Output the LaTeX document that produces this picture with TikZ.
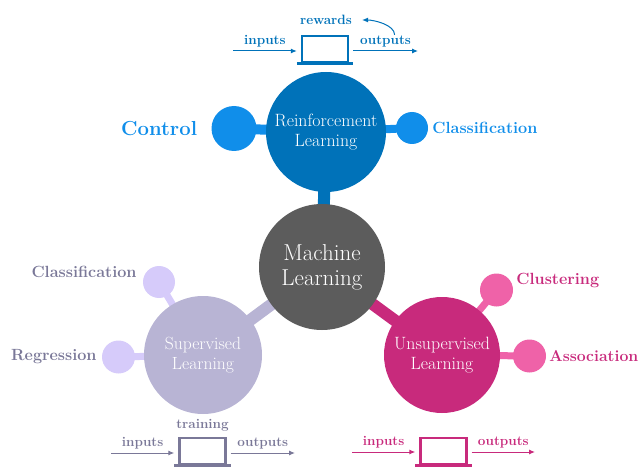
\documentclass[tikz,border=0pt]{standalone}
\usetikzlibrary{positioning,arrows.meta,backgrounds}
\definecolor{mlgray}{RGB}{92,92,92}
\definecolor{rlblue}{RGB}{0,114,185}
\definecolor{rllight}{RGB}{16,142,234}
\definecolor{suplav}{RGB}{184,180,212}
\definecolor{suplight}{RGB}{214,203,250}
\definecolor{suptext}{RGB}{122,120,152}
\definecolor{unsmag}{RGB}{200,42,124}
\definecolor{unslight}{RGB}{239,98,168}
\tikzset{
    hub/.style={circle,fill=#1,text=white,align=center,inner sep=0pt},
    leaf/.style={circle,fill=#1,minimum size=32pt,inner sep=0pt},
    tag/.style={font=\bfseries\fontsize{16.2}{19}\selectfont,text=#1,inner sep=0pt},
    small/.style={font=\bfseries\fontsize{13.5}{16}\selectfont,text=#1,inner sep=1pt},
    bar/.style={line width=#1},
    flow/.style={-{Latex[length=6pt,width=5pt]},line width=1pt},
    laptop/.style={draw=#1,line width=2.4pt,minimum width=46pt,minimum height=26pt,inner sep=0pt},
}
\begin{document}
\begin{tikzpicture}[x=1pt,y=1pt]
    \useasboundingbox (0,0) rectangle (641,467);
    % hubs
    \node[hub=mlgray,minimum size=126pt,font=\fontsize{23}{25}\selectfont] (ml) at (322,200) {Machine\\Learning};
    \node[hub=rlblue,minimum size=120pt,font=\fontsize{17.8}{19.5}\selectfont] (rl) at (326,335) {Reinforcement\\Learning};
    \node[hub=suplav,minimum size=118pt,font=\fontsize{17.6}{19.5}\selectfont] (sup) at (203,112) {Supervised\\Learning};
    \node[hub=unsmag,minimum size=116pt,font=\fontsize{17.8}{19.5}\selectfont] (uns) at (442,112) {Unsupervised\\Learning};
    % leaves
    \node[leaf=rllight,minimum size=45pt] (rlctrl) at (234,338.5) {};
    \node[leaf=rllight] (rlcls) at (412,339) {};
    \node[leaf=suplight] (supcls) at (159,185) {};
    \node[leaf=suplight,minimum size=33pt] (supreg) at (118.5,110) {};
    \node[leaf=unslight,minimum size=33pt] (unsclu) at (496.5,177) {};
    \node[leaf=unslight,minimum size=33pt] (unsass) at (529.5,111) {};
    % labels
    \node[tag=rllight,font=\bfseries\fontsize{20.3}{23}\selectfont,left=14pt of rlctrl] {Control};
    \node[tag=rllight,right=4pt of rlcls] {Classification};
    \node[tag=suptext,left=6pt of supcls,yshift=10pt] {Classification};
    \node[tag=suptext,left=5pt of supreg] {Regression};
    \node[tag=unsmag,right=3pt of unsclu,yshift=10pt] {Clustering};
    \node[tag=unsmag,font=\bfseries\fontsize{15.8}{19}\selectfont,right=3pt of unsass] {Association};
    % bars
    \begin{scope}[on background layer]
        \draw[bar=12pt,rlblue] (ml.center) -- (rl.center);
        \draw[bar=12pt,suplav] (ml.center) -- (sup.center);
        \draw[bar=12pt,unsmag] (ml.center) -- (uns.center);
        \draw[bar=10pt,rllight] (rl.center) -- (rlctrl.center);
        \draw[bar=8pt,rllight] (rl.center) -- (rlcls.center);
        \draw[bar=7pt,suplight] (sup.center) -- (supcls.center);
        \draw[bar=7pt,suplight] (sup.center) -- (supreg.center);
        \draw[bar=7pt,unslight] (uns.center) -- (unsclu.center);
        \draw[bar=7pt,unslight] (uns.center) -- (unsass.center);
    \end{scope}
    % reinforcement box
    \node[laptop=rlblue] (rlbox) at (325,418) {};
    \draw[rlblue,line width=3pt] ([xshift=-4pt]rlbox.south west) -- ([xshift=4pt]rlbox.south east);
    \coordinate (rlin) at (233,416);
    \coordinate (rlout) at (418,416);
    \draw[flow,rlblue] (rlin) -- node[small=rlblue,above=2pt] {inputs} ([xshift=-4pt]rlbox.west |- rlin);
    \draw[flow,rlblue] ([xshift=4pt]rlbox.east |- rlout) -- node[small=rlblue,above=2pt] (rlouttext) {outputs} (rlout);
    \node[small=rlblue] (rewards) at (326,447) {rewards};
    \draw[flow,rlblue] ([xshift=9pt]rlouttext.north) .. controls +(0,10) and +(12,0) .. ([xshift=9pt]rewards.east);
    % supervised box
    \node[laptop=suptext] (supbox) at (202.5,16) {};
    \draw[suptext,line width=3pt] ([xshift=-4pt]supbox.south west) -- ([xshift=4pt]supbox.south east);
    \coordinate (supin) at (111,14);
    \coordinate (supout) at (295,14);
    \draw[flow,suptext] (supin) -- node[small=suptext,above=2pt] {inputs} ([xshift=-4pt]supbox.west |- supin);
    \draw[flow,suptext] ([xshift=4pt]supbox.east |- supout) -- node[small=suptext,above=2pt] {outputs} (supout);
    \node[small=suptext,above=4pt of supbox] {training};
    % unsupervised box
    \node[laptop=unsmag] (unsbox) at (443.5,16) {};
    \draw[unsmag,line width=3pt] ([xshift=-4pt]unsbox.south west) -- ([xshift=4pt]unsbox.south east);
    \coordinate (unsin) at (352,15);
    \coordinate (unsout) at (535,15);
    \draw[flow,unsmag] (unsin) -- node[small=unsmag,above=2pt] {inputs} ([xshift=-4pt]unsbox.west |- unsin);
    \draw[flow,unsmag] ([xshift=4pt]unsbox.east |- unsout) -- node[small=unsmag,above=2pt] {outputs} (unsout);
\end{tikzpicture}
\end{document}
